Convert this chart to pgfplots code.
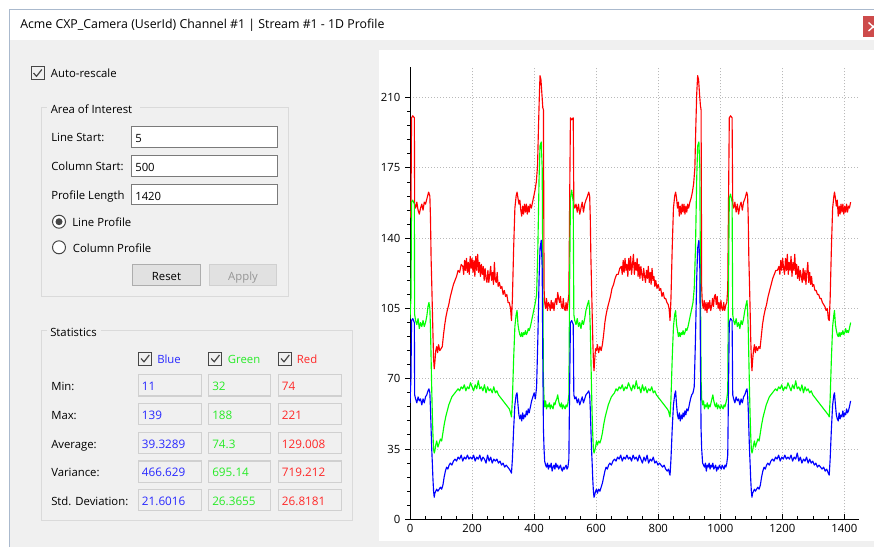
\documentclass[border=0pt]{standalone}
\usepackage{fontspec}
\setmainfont{Open Sans}
\usepackage{pgfplots}
\pgfplotsset{compat=1.18}
\definecolor{winbg}{RGB}{240,240,240}
\definecolor{grpline}{RGB}{218,218,218}
\definecolor{tbborder}{RGB}{122,122,122}
\definecolor{btnbg}{RGB}{225,225,225}
\definecolor{btnborder}{RGB}{173,173,173}
\definecolor{chkborder}{RGB}{70,70,70}
\definecolor{valborder}{RGB}{208,208,208}
\definecolor{txtblue}{RGB}{40,40,255}
\definecolor{txtgreen}{RGB}{40,235,40}
\definecolor{txtred}{RGB}{255,40,40}
\definecolor{closered}{RGB}{205,75,75}
\definecolor{winborder}{RGB}{170,185,205}
\definecolor{gridc}{RGB}{185,185,185}
\definecolor{pred}{RGB}{255,0,0}
\definecolor{pgreen}{RGB}{0,255,0}
\definecolor{pblue}{RGB}{0,0,255}
\newcommand{\chk}[2]{%
  \draw[chkborder, line width=0.75pt] (#1,#2) rectangle ++(13,13);
  \draw[chkborder, line width=0.9pt] (#1+2.5,#2+6.5) -- (#1+5.5,#2+9.8) -- (#1+10.8,#2+3);}
\newcommand{\txt}[3]{\node[anchor=base west, inner sep=0pt] at (#1,#2) {#3};}
\begin{document}
\begin{tikzpicture}[font=\fontsize{8.5}{10}\selectfont]
\begin{scope}[x=0.75pt,y=-0.75pt]
\path[use as bounding box] (0,0) rectangle (874,547);
\fill[white] (0,0) rectangle (874,547);
% window
\fill[winbg] (9.5,40) rectangle (874,547);
\fill[white] (9.5,9) rectangle (874,40);
\draw[winborder, line width=0.75pt] (9.5,547) -- (9.5,9) -- (874,9);
\node[anchor=base west, inner sep=0pt, font=\fontsize{9.25}{11}\selectfont] at (20,28.3) {Acme CXP\_Camera (UserId) Channel \#1 | Stream \#1 - 1D Profile};
\fill[closered] (862.5,16) rectangle (880,36.7);
\draw[white, line width=1pt] (868.5,22.5) -- (878,31) (868.5,31) -- (878,22.5);
% chart panel
\fill[white] (379,50) rectangle (874,541);
% Auto-rescale
\chk{31}{66.5}
\txt{50.7}{77.7}{Auto-rescale}
% Area of interest
\draw[grpline, line width=0.75pt] (41,107) rectangle (288,296);
\fill[winbg] (47,102) rectangle (140,112);
\txt{50.5}{113}{Area of Interest}
\txt{51}{141.7}{Line Start:}
\txt{51}{170.7}{Column Start:}
\txt{51}{199.3}{Profile Length}
\draw[tbborder, fill=white, line width=0.75pt] (131.7,126.7) rectangle (277.3,147.3);
\draw[tbborder, fill=white, line width=0.75pt] (131.7,155.3) rectangle (277.3,176);
\draw[tbborder, fill=white, line width=0.75pt] (131.7,184.3) rectangle (277.3,204.7);
\txt{135}{142.3}{5}
\txt{135}{171.3}{500}
\txt{135}{200}{1420}
\draw[chkborder, fill=white, line width=0.75pt] (59,221.7) circle (6.5);
\fill[chkborder] (59,221.7) circle (3.5);
\txt{72}{226.7}{Line Profile}
\draw[chkborder, fill=white, line width=0.75pt] (59,247.3) circle (6.5);
\txt{72.7}{252.3}{Column Profile}
\draw[btnborder, fill=btnbg, line width=0.75pt] (132.3,264.3) rectangle (200.7,285);
\draw[valborder, fill=btnbg, line width=0.75pt] (209.3,264.3) rectangle (276.7,285);
\node[anchor=base, inner sep=0pt] at (166.5,280) {Reset};
\node[anchor=base, inner sep=0pt, text={rgb,255:red,150;green,150;blue,150}] at (243,280) {Apply};
% Statistics
\draw[grpline, line width=0.75pt] (41,330.7) rectangle (352.3,520);
\fill[winbg] (47,326) rectangle (101,336);
\txt{50}{336}{Statistics}
\chk{138.5}{352}
\chk{208.7}{352}
\chk{278.5}{352}
\node[anchor=base west, inner sep=0pt, text=txtblue] at (157,363.3) {Blue};
\node[anchor=base west, inner sep=0pt, text=txtgreen] at (227.7,363.3) {Green};
\node[anchor=base west, inner sep=0pt, text=txtred] at (296.7,363.3) {Red};
\txt{51}{390.7}{Min:}
\txt{51}{419.3}{Max:}
\txt{51}{448.3}{Average:}
\txt{51}{476.7}{Variance:}
\txt{51}{505}{Std. Deviation:}
\foreach \ya/\yb in {374.7/396,403.3/424.7,432.3/453.3,461/482.3,489.3/510.7}{
  \draw[valborder, line width=0.9pt] (138.3,\ya) rectangle (201.7,\yb);
  \draw[valborder, line width=0.9pt] (208.7,\ya) rectangle (270.7,\yb);
  \draw[valborder, line width=0.9pt] (278.3,\ya) rectangle (341.7,\yb);
}
\foreach \yy/\va/\vb/\vc in {390.7/11/32/74,419.3/139/188/221,448.3/39.3289/74.3/129.008,476.7/466.629/695.14/719.212,505/21.6016/26.3655/26.8181}{
  \node[anchor=base west, inner sep=0pt, text=txtblue, font=\fontsize{8.8}{10}\selectfont] at (141.7,\yy) {\va};
  \node[anchor=base west, inner sep=0pt, text=txtgreen, font=\fontsize{8.8}{10}\selectfont] at (212,\yy) {\vb};
  \node[anchor=base west, inner sep=0pt, text=txtred, font=\fontsize{8.8}{10}\selectfont] at (281.7,\yy) {\vc};
}
\end{scope}
\begin{axis}[
  at={(307.5pt,-389.475pt)}, anchor=south west,
  scale only axis, width=336.75pt, height=339.225pt,
  xmin=0, xmax=1447, ymin=0, ymax=225.3,
  axis lines=left, axis line style={-, black, line width=0.75pt},
  xtick={0,200,...,1400}, ytick={0,35,...,210},
  minor x tick num=3, minor y tick num=4,
  xtick align=inside, ytick align=outside,
  major tick length=3.75pt, minor tick length=2.25pt,
  every tick/.style={black, line width=0.75pt},
  grid=major, major grid style={gridc, line width=0.75pt, dash pattern=on 0.75pt off 1.5pt},
  ticklabel style={font=\fontsize{8.5}{10}\selectfont},
  /pgf/number format/assume math mode=true,
  /pgf/number format/1000 sep={},
  scaled ticks=false,
  every axis plot/.append style={line width=0.85pt, line join=round},
]
% RED
\addplot[pred] coordinates {
(0,150)(3,154)(5,200)(9,201)(14,200)(15,157)(18,155)(22,158)(26,154)(30,152)(34,155)(38,157)(42,154)(46,158)(50,157)(55,160)(60,163)(64,161)(66,150)(68,130)(70,118)(72,105)(74,92)(76,80)(78,75)(80,78)(83,84)(86,86)(89,83)(92,87)(96,84)(100,85)(104,86)(108,92)(112,97)(116,101)(120,104)(125,107)(130,111)(135,114)(140,117)(145,119)(150,121)(155,124)(160,123)(165,127)(170,126)(173,122)(176,129)(179,124)(182,130)(185,123)(188,128)(191,122)(194,131)(197,125)(200,130)(203,123)(206,129)(209,121)(212,131)(215,124)(218,132)(221,123)(224,128)(227,121)(230,127)(233,122)(236,126)(239,119)(242,125)(245,120)(248,118)(251,124)(254,118)(257,122)(260,126)(263,119)(266,123)(269,117)(272,128)(275,119)(278,118)(281,123)(284,116)(288,118)(292,115)(296,116)(300,112)(304,114)(308,111)(312,112)(316,108)(320,108)(324,105)(327,99)(330,110)(334,135)(338,155)(342,161)(345,163)(348,160)(351,157)(354,159)(357,154)(360,151)(363,156)(366,152)(369,157)(372,153)(375,157)(378,152)(381,156)(384,153)(387,157)(391,155)(395,158)(399,161)(403,164)(407,168)(411,176)(414,195)(417,212)(419,221)(422,219)(425,212)(428,205)(430,204)(431,160)(432,115)(434,108)(437,105)(440,110)(443,104)(446,108)(449,107)(452,104)(455,109)(458,105)(461,108)(464,104)(467,108)(470,110)(473,107)(476,113)(479,110)(482,108)(485,111)(488,106)(491,105)(494,110)(497,105)(500,104)(503,108)(506,104)(509,108)(512,112)
(514,150)(517,200)(521,199)(526,200)(528,157)(531,155)(535,157)(539,153)(543,157)(547,152)(551,155)(555,158)(559,153)(563,157)(567,159)(572,161)(576,163)(579,161)(581,150)(583,130)(585,117)(587,103)(589,90)(591,79)(593,74)(595,79)(598,85)(601,84)(604,87)(608,83)(612,86)(616,84)(620,87)(624,92)(628,98)(632,102)(636,105)(641,108)(646,111)(651,115)(656,117)(661,120)(666,122)(671,122)(676,125)(681,126)(684,122)(687,129)(690,123)(693,130)(696,124)(699,127)(702,121)(705,130)(708,124)(711,131)(714,122)(717,127)(720,132)(723,122)(726,128)(729,124)(732,130)(735,121)(738,127)(741,120)(744,126)(747,122)(750,119)(753,125)(756,121)(759,118)(762,124)(765,120)(768,126)(771,118)(774,123)(777,117)(780,125)(783,119)(786,121)(789,116)(792,119)(796,115)(800,117)(804,114)(808,115)(812,111)(816,113)(820,110)(824,110)(828,108)(832,107)(835,105)(838,99)(841,110)(845,135)(849,155)(853,161)(856,163)(859,160)(862,155)(865,158)(868,151)(871,156)(874,152)(877,157)(880,153)(883,157)(886,152)(889,156)(892,153)(895,157)(898,155)(902,158)(906,160)(910,163)(914,167)(918,175)(921,195)(924,212)(927,221)(930,219)(933,212)(936,206)(938,204)(939,160)(940,115)(942,108)(945,105)(948,109)(951,104)(954,108)(957,103)(960,108)(963,105)(966,109)(969,104)(972,106)(975,110)(978,106)(981,111)(984,112)(987,107)(990,111)(993,105)(996,108)(999,104)(1002,109)(1005,105)(1008,104)(1011,108)(1014,104)(1018,107)(1021,108)(1024,115)
(1026,150)(1029,200)(1033,201)(1038,200)(1040,157)(1043,155)(1047,158)(1051,153)(1055,157)(1059,152)(1063,156)(1067,158)(1071,154)(1075,158)(1080,160)(1085,163)(1088,161)(1090,150)(1092,130)(1094,118)(1096,105)(1098,90)(1100,80)(1102,74)(1104,79)(1107,84)(1110,87)(1113,83)(1116,86)(1120,84)(1124,86)(1128,85)(1132,91)(1136,97)(1140,101)(1144,104)(1149,107)(1154,111)(1159,114)(1164,117)(1169,120)(1174,122)(1179,124)(1184,124)(1189,126)(1192,122)(1195,129)(1198,124)(1201,130)(1204,125)(1207,122)(1210,130)(1213,124)(1216,132)(1219,122)(1222,128)(1225,124)(1228,131)(1231,121)(1234,128)(1237,124)(1240,132)(1243,122)(1246,127)(1249,120)(1252,126)(1255,119)(1258,124)(1261,121)(1264,118)(1267,125)(1270,119)(1273,124)(1276,117)(1279,123)(1282,128)(1285,118)(1288,123)(1291,117)(1294,121)(1297,116)(1301,117)(1305,114)(1309,114)(1313,112)(1317,112)(1321,110)(1325,110)(1329,108)(1333,107)(1337,106)(1341,104)(1345,105)(1348,100)(1351,99)(1354,110)(1358,135)(1362,155)(1366,161)(1368,163)(1371,160)(1374,156)(1377,159)(1380,151)(1383,156)(1386,152)(1389,157)(1392,153)(1395,157)(1398,152)(1401,156)(1404,153)(1407,157)(1410,153)(1413,156)(1416,155)(1420,158)
};
% GREEN
\addplot[pgreen] coordinates {
(0,100)(3,110)(5,158)(9,159)(14,157)(15,102)(18,99)(22,97)(26,100)(30,95)(34,98)(38,96)(42,99)(46,96)(50,98)(54,101)(58,106)(61,108)(64,105)(66,95)(68,80)(70,65)(72,52)(74,42)(76,35)(78,33)(80,34)(83,37)(86,39)(90,36)(94,38)(98,40)(102,39)(106,43)(110,47)(115,51)(120,54)(125,57)(130,59)(135,61)(140,62)(145,63)(150,64)(155,65)(160,64)(165,66)(170,65)(175,67)(180,64)(185,66)(190,65)(195,68)(200,66)(205,64)(210,67)(215,65)(220,69)(225,65)(230,66)(235,64)(240,67)(245,63)(250,66)(255,64)(260,65)(265,63)(270,66)(275,63)(280,64)(285,62)(290,61)(295,60)(300,59)(305,58)(310,57)(315,56)(320,55)(324,53)(327,51)(330,60)(334,80)(338,96)(342,102)(345,104)(348,97)(351,94)(354,92)(357,91)(360,93)(363,91)(366,93)(369,92)(372,94)(375,92)(378,93)(381,95)(384,94)(388,96)(392,99)(396,102)(400,105)(404,108)(408,112)(412,135)(416,170)(419,186)(423,188)(426,175)(428,120)(430,70)(432,60)(434,56)(437,59)(440,55)(443,57)(446,56)(449,58)(452,55)(455,57)(458,56)(461,55)(464,58)(467,57)(470,59)(473,60)(476,62)(479,59)(482,57)(485,56)(488,58)(491,55)(494,57)(497,56)(500,55)(503,57)(506,56)(509,58)(512,62)
(514,110)(517,160)(521,164)(526,158)(528,102)(531,99)(535,97)(539,100)(543,96)(547,98)(551,95)(555,99)(559,97)(563,100)(567,104)(572,107)(576,109)(579,104)(581,95)(583,80)(585,65)(587,52)(589,42)(591,35)(593,33)(595,34)(598,36)(601,39)(604,37)(608,39)(612,38)(616,40)(620,43)(624,47)(629,51)(634,54)(639,57)(644,59)(649,61)(654,62)(659,63)(664,65)(669,64)(674,66)(679,65)(684,67)(689,64)(694,66)(699,65)(704,68)(709,66)(714,64)(719,67)(724,65)(729,69)(734,65)(739,66)(744,63)(749,67)(754,64)(759,66)(764,63)(769,65)(774,64)(779,66)(784,63)(789,64)(794,62)(799,61)(804,60)(809,59)(814,58)(819,57)(824,56)(829,55)(833,54)(836,52)(838,51)(841,60)(845,80)(849,96)(853,102)(856,104)(859,97)(862,94)(865,91)(868,93)(871,91)(874,93)(877,92)(880,94)(883,92)(886,93)(889,95)(892,94)(896,96)(900,99)(904,102)(908,105)(912,108)(916,115)(920,135)(924,170)(927,186)(931,188)(934,175)(936,120)(938,70)(940,60)(943,57)(946,59)(949,55)(952,57)(955,56)(958,58)(961,55)(964,57)(967,56)(970,58)(973,60)(976,62)(979,59)(982,57)(985,56)(988,58)(991,55)(994,57)(997,56)(1000,55)(1003,57)(1006,56)(1009,55)(1012,57)(1015,56)(1018,58)(1021,60)(1024,64)
(1026,110)(1029,160)(1033,162)(1038,158)(1040,102)(1043,99)(1047,97)(1051,100)(1055,96)(1059,98)(1063,95)(1067,99)(1071,97)(1075,100)(1079,104)(1083,107)(1086,109)(1088,104)(1090,95)(1092,80)(1094,65)(1096,52)(1098,42)(1100,35)(1102,33)(1104,34)(1107,37)(1110,39)(1113,36)(1117,38)(1121,40)(1125,39)(1129,43)(1133,47)(1138,51)(1143,54)(1148,57)(1153,59)(1158,61)(1163,62)(1168,63)(1173,64)(1178,65)(1183,64)(1188,66)(1193,65)(1198,67)(1203,64)(1208,66)(1213,65)(1218,68)(1223,66)(1228,64)(1233,67)(1238,65)(1243,69)(1248,65)(1253,66)(1258,64)(1263,67)(1268,63)(1273,66)(1278,64)(1283,65)(1288,63)(1293,64)(1298,62)(1303,61)(1308,60)(1313,59)(1318,58)(1323,57)(1328,56)(1333,55)(1338,54)(1343,53)(1348,52)(1351,51)(1354,60)(1358,80)(1362,96)(1366,102)(1368,104)(1371,97)(1374,94)(1377,92)(1380,91)(1383,93)(1386,91)(1389,93)(1392,92)(1395,94)(1398,92)(1401,93)(1404,95)(1407,93)(1410,94)(1413,93)(1416,95)(1420,98)
};
% BLUE
\addplot[pblue] coordinates {
(0,58)(3,70)(5,99)(9,100)(14,98)(15,62)(18,60)(22,58)(26,61)(30,59)(34,60)(38,57)(42,60)(46,58)(50,61)(54,62)(58,64)(61,65)(64,63)(66,55)(68,45)(70,35)(72,28)(74,20)(76,14)(78,11)(80,13)(83,14)(86,15)(90,14)(94,15)(98,16)(102,15)(106,17)(110,21)(114,24)(118,26)(122,25)(126,27)(130,28)(135,27)(140,29)(145,30)(150,29)(155,31)(160,30)(165,32)(170,29)(175,31)(180,30)(185,32)(190,30)(195,31)(200,30)(205,32)(210,29)(215,31)(220,30)(225,32)(230,29)(235,31)(240,30)(245,28)(250,32)(255,29)(260,31)(265,28)(270,30)(275,29)(280,30)(285,28)(290,29)(295,27)(300,28)(305,26)(310,27)(315,26)(320,25)(324,24)(327,23)(330,30)(334,45)(338,57)(342,62)(345,63)(348,57)(351,52)(354,50)(357,52)(360,49)(363,53)(366,50)(369,52)(372,51)(375,54)(378,52)(381,55)(384,53)(388,56)(392,59)(396,61)(400,63)(404,60)(408,66)(412,90)(416,120)(419,135)(423,139)(426,125)(428,80)(430,45)(432,35)(434,29)(437,27)(440,26)(443,28)(446,25)(449,27)(452,26)(455,28)(458,24)(461,26)(464,27)(467,25)(470,28)(473,26)(476,27)(479,25)(482,26)(485,27)(488,25)(491,24)(494,26)(497,25)(500,26)(503,27)(506,25)(509,26)(512,30)
(514,60)(517,98)(521,99)(526,97)(528,62)(531,60)(535,61)(539,58)(543,60)(547,57)(551,59)(555,61)(559,58)(563,60)(567,62)(572,63)(576,64)(579,62)(581,55)(583,45)(585,35)(587,28)(589,20)(591,14)(593,11)(595,12)(598,14)(601,15)(604,13)(608,15)(612,14)(616,16)(620,18)(624,21)(628,24)(632,26)(636,25)(640,27)(644,28)(649,27)(654,29)(659,30)(664,29)(669,31)(674,30)(679,32)(684,29)(689,31)(694,30)(699,32)(704,30)(709,31)(714,29)(719,32)(724,30)(729,31)(734,29)(739,32)(744,30)(749,28)(754,31)(759,29)(764,32)(769,28)(774,30)(779,29)(784,31)(789,28)(794,29)(799,27)(804,28)(809,27)(814,26)(819,27)(824,25)(829,24)(833,25)(836,23)(838,22)(841,30)(845,45)(849,57)(853,62)(856,64)(859,57)(862,52)(865,50)(868,53)(871,49)(874,52)(877,50)(880,53)(883,51)(886,54)(889,52)(892,55)(896,54)(900,57)(904,60)(908,62)(912,63)(916,66)(920,90)(924,120)(927,135)(931,139)(934,125)(936,80)(938,45)(940,35)(943,28)(946,27)(949,26)(952,28)(955,24)(958,27)(961,26)(964,28)(967,25)(970,27)(973,26)(976,28)(979,25)(982,26)(985,27)(988,24)(991,26)(994,25)(997,27)(1000,26)(1003,25)(1006,27)(1009,26)(1012,25)(1015,27)(1018,26)(1021,28)(1024,32)
(1026,60)(1029,98)(1033,100)(1038,99)(1040,62)(1043,60)(1047,58)(1051,61)(1055,59)(1059,60)(1063,57)(1067,60)(1071,58)(1075,61)(1079,62)(1083,64)(1086,65)(1088,62)(1090,55)(1092,45)(1094,35)(1096,28)(1098,20)(1100,14)(1102,11)(1104,13)(1107,14)(1110,15)(1113,14)(1117,15)(1121,16)(1125,15)(1129,17)(1133,21)(1137,24)(1141,26)(1145,25)(1149,27)(1153,28)(1158,27)(1163,29)(1168,30)(1173,29)(1178,31)(1183,30)(1188,32)(1193,29)(1198,31)(1203,30)(1208,32)(1213,30)(1218,31)(1223,30)(1228,32)(1233,29)(1238,31)(1243,30)(1248,33)(1253,29)(1258,31)(1263,28)(1268,30)(1273,29)(1278,31)(1283,28)(1288,30)(1293,28)(1298,29)(1303,27)(1308,28)(1313,26)(1318,27)(1323,26)(1328,25)(1333,26)(1338,24)(1343,25)(1348,23)(1351,22)(1354,30)(1358,45)(1362,57)(1366,62)(1368,63)(1371,57)(1374,52)(1377,50)(1380,49)(1383,53)(1386,50)(1389,52)(1392,51)(1395,54)(1398,51)(1401,53)(1404,52)(1407,55)(1410,53)(1413,54)(1416,56)(1420,59)
};
\end{axis}
\end{tikzpicture}
\end{document}
